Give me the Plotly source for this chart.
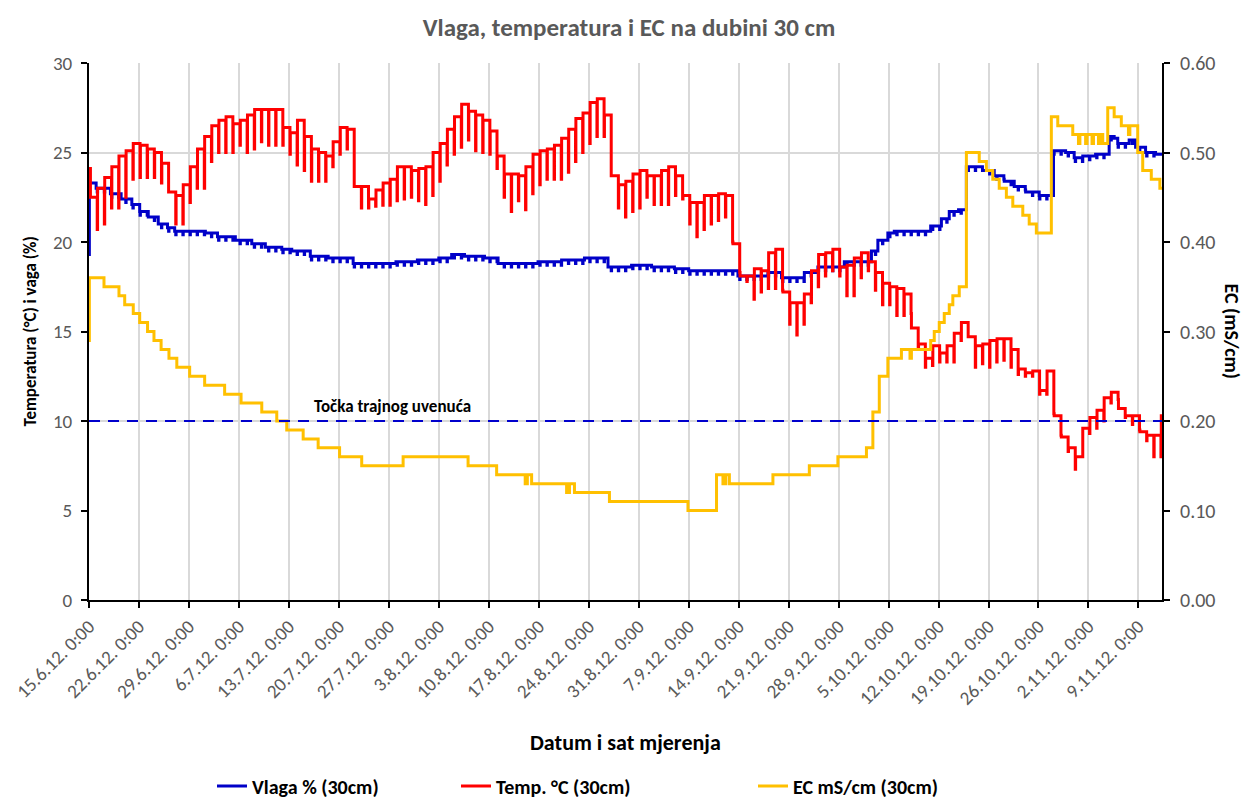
import datetime as dt
import plotly.graph_objects as go

# ---------------- data ----------------
start = dt.datetime(2012, 6, 15)
end_day = 150.3  # last reading (days after start)

tick_labels = ["15.6.12. 0:00", "22.6.12. 0:00", "29.6.12. 0:00", "6.7.12. 0:00",
               "13.7.12. 0:00", "20.7.12. 0:00", "27.7.12. 0:00", "3.8.12. 0:00",
               "10.8.12. 0:00", "17.8.12. 0:00", "24.8.12. 0:00", "31.8.12. 0:00",
               "7.9.12. 0:00", "14.9.12. 0:00", "21.9.12. 0:00", "28.9.12. 0:00",
               "5.10.12. 0:00", "12.10.12. 0:00", "19.10.12. 0:00", "26.10.12. 0:00",
               "2.11.12. 0:00", "9.11.12. 0:00"]

# Temperature: first reading, then daily plateau level and daily minimum
temp_first = 24.1
temp_level = [22.5, 23.0, 23.6, 24.2, 24.8, 25.1, 25.5, 25.4, 25.2, 25.0,
              24.4, 22.8, 22.6, 23.2, 24.2, 25.2, 25.9, 26.5, 26.8, 27.0,
              26.6, 26.8, 27.1, 27.4, 27.4, 27.4, 27.4, 26.4, 26.1, 26.8,
              25.9, 25.2, 25.0, 24.8, 25.6, 26.4, 26.3, 23.1, 23.1, 22.4,
              22.9, 23.3, 23.5, 24.2, 24.2, 24.0, 24.1, 24.2, 25.0, 25.5,
              26.3, 27.0, 27.7, 27.3, 27.1, 26.8, 26.2, 24.8, 23.8, 23.8,
              23.7, 24.2, 24.9, 25.1, 25.2, 25.4, 25.8, 26.3, 26.9, 27.2,
              27.8, 28.0, 27.1, 23.7, 23.2, 23.4, 23.8, 24.0, 23.7, 23.7,
              24.0, 24.2, 23.7, 22.6, 22.2, 22.2, 22.6, 22.6, 22.7, 22.6,
              19.9, 18.1, 18.1, 18.5, 18.4, 19.4, 19.6, 17.2, 16.6, 16.6,
              17.1, 18.4, 19.3, 19.4, 19.6, 18.6, 18.7, 19.1, 19.4, 18.9,
              18.3, 17.7, 17.5, 17.4, 17.1, 15.2, 14.3, 13.5, 14.2, 13.8,
              14.2, 14.9, 15.5, 14.7, 14.2, 14.3, 14.5, 14.6, 14.6, 14.0,
              12.9, 12.7, 12.8, 11.7, 12.8, 10.3, 9.1, 8.5, 8.0, 9.6,
              10.2, 10.6, 11.3, 11.6, 10.7, 10.3, 10.3, 9.4, 9.2, 9.2,
              10.3]
temp_min = [20.7, 21.0, 21.9, 21.9, 22.5, 23.5, 23.6, 23.6, 23.6, 23.3,
            22.8, 21.0, 21.0, 22.2, 23.0, 23.0, 24.5, 25.0, 25.0, 25.0,
            25.4, 25.0, 25.2, 25.6, 25.4, 25.4, 25.4, 24.9, 24.3, 24.0,
            23.4, 23.4, 23.4, 24.2, 24.9, 25.2, 23.1, 21.9, 21.9, 22.0,
            22.05, 22.05, 22.3, 22.4, 22.5, 22.3, 22.1, 22.6, 23.4, 24.3,
            24.9, 25.3, 25.7, 25.1, 25.0, 24.9, 24.1, 22.5, 21.7, 22.3,
            21.8, 22.7, 23.2, 23.5, 23.5, 23.5, 23.9, 24.5, 25.0, 25.5,
            25.9, 25.9, 23.7, 21.9, 21.4, 21.7, 21.9, 22.5, 22.1, 22.1,
            22.1, 22.6, 22.4, 21.0, 20.3, 20.7, 21.0, 21.2, 21.4, 20.0,
            18.3, 17.8, 16.8, 17.2, 17.4, 17.4, 17.3, 15.4, 14.8, 15.4,
            16.6, 17.5, 18.1, 18.4, 18.1, 17.0, 17.0, 18.0, 18.4, 17.3,
            16.5, 16.5, 15.9, 15.9, 16.0, 14.0, 13.0, 13.1, 13.3, 13.3,
            13.3, 14.5, 14.7, 13.0, 13.2, 13.0, 13.3, 13.4, 13.0, 12.6,
            12.5, 12.5, 11.5, 11.5, 10.4, 9.2, 8.3, 7.3, 8.0, 9.3,
            9.6, 10.0, 11.0, 11.2, 10.2, 9.8, 9.5, 8.9, 8.0, 8.0,
            8.9]

# Soil moisture: change points (day after start, value %) and typical daily dip
moist_days = [0.0, 0.05, 1.0, 3.0, 4.5, 6.0, 7.1, 8.3, 9.7, 11.0,
              12.0, 16.3, 18.0, 20.5, 22.8, 24.7, 27.0, 28.4, 31.0, 33.5,
              37.0, 43.0, 46.0, 49.0, 50.8, 52.6, 55.4, 57.3, 62.9, 66.2,
              69.4, 72.7, 76.0, 78.8, 82.0, 84.0, 90.9, 95.1, 97.0, 100.2,
              102.1, 105.8, 109.6, 110.5, 111.9, 112.8, 117.9, 119.4, 120.5, 121.8,
              122.9, 125.2, 126.8, 128.2, 129.6, 131.2, 133.1, 135.1, 136.8, 138.0,
              139.2, 141.0, 142.9, 143.6, 144.1, 145.7, 146.6, 148.0, 149.4]
moist_vals = [19.3, 23.3, 23.0, 22.7, 22.4, 22.1, 21.7, 21.4, 21.0, 20.8,
              20.6, 20.5, 20.3, 20.1, 19.9, 19.7, 19.6, 19.5, 19.2, 19.1,
              18.8, 18.9, 19.0, 19.1, 19.3, 19.2, 19.1, 18.8, 18.9, 19.0,
              19.1, 18.6, 18.7, 18.6, 18.5, 18.4, 18.1, 18.3, 18.0, 18.3,
              18.6, 18.9, 19.5, 20.1, 20.5, 20.6, 20.9, 21.3, 21.7, 21.8,
              24.2, 24.0, 23.7, 23.4, 23.1, 22.8, 22.6, 25.1, 25.0, 24.7,
              24.8, 24.9, 25.9, 25.8, 25.5, 25.7, 25.3, 25.0, 24.9]
moist_daily_dip = 0.2

# EC: change points (day after start, value mS/cm)
ec_days = [0.0, 0.05, 2.1, 4.2, 5.0, 6.2, 7.1, 8.2, 9.1, 10.1,
           11.2, 12.3, 14.1, 16.2, 19.0, 21.3, 24.2, 26.3, 27.7, 30.0,
           32.1, 35.1, 38.2, 44.0, 53.1, 57.1, 61.1, 61.4, 62.0, 66.9,
           67.3, 68.0, 72.9, 83.9, 87.9, 88.8, 89.2, 89.7, 95.8, 100.9,
           104.9, 108.9, 109.8, 110.7, 111.9, 113.8, 115.0, 115.2, 117.9, 118.4,
           119.1, 119.8, 120.5, 121.0, 121.9, 122.9, 124.7, 125.7, 126.6, 127.5,
           128.5, 129.4, 130.8, 131.7, 132.7, 134.8, 135.7, 137.8, 138.6, 138.8,
           139.6, 139.8, 140.5, 140.7, 141.4, 141.6, 142.0, 142.7, 143.6, 144.6,
           145.6, 145.8, 146.9, 147.6, 148.8, 150.0]
ec_vals = [0.29, 0.36, 0.35, 0.34, 0.33, 0.32, 0.31, 0.30, 0.29, 0.28,
           0.27, 0.26, 0.25, 0.24, 0.23, 0.22, 0.21, 0.20, 0.19, 0.18,
           0.17, 0.16, 0.15, 0.16, 0.15, 0.14, 0.13, 0.14, 0.13, 0.12,
           0.13, 0.12, 0.11, 0.10, 0.14, 0.13, 0.14, 0.13, 0.14, 0.15,
           0.16, 0.17, 0.21, 0.25, 0.27, 0.28, 0.27, 0.28, 0.29, 0.30,
           0.31, 0.32, 0.33, 0.34, 0.35, 0.50, 0.49, 0.48, 0.47, 0.46,
           0.45, 0.44, 0.43, 0.42, 0.41, 0.54, 0.53, 0.52, 0.51, 0.52,
           0.51, 0.52, 0.51, 0.52, 0.51, 0.52, 0.51, 0.55, 0.54, 0.53,
           0.52, 0.53, 0.50, 0.48, 0.47, 0.46]

pwp_value = 10  # Točka trajnog uvenuća (%)
pwp_label = "Točka trajnog uvenuća"

names = ["Vlaga % (30cm)", "Temp. °C (30cm)", "EC mS/cm (30cm)"]
title = "Vlaga, temperatura i EC na dubini 30 cm"

# ---------------- build ----------------
BLUE, RED, GOLD = "#0000C8", "#FF0000", "#FFC000"
GRID = "#D9D9D9"
FONT = "Carlito, Lato, 'Liberation Sans', sans-serif"
TXT_GRAY = "#595959"

# page body has an 8px margin: size/offset the figure so the plot lands where the reference has it
PAGE = 8
W, H = 1250 - PAGE, 801 - PAGE
ML, MT, PW, PH = 89 - PAGE, 63 - PAGE, 1073, 537
MR, MB = W - ML - PW, H - MT - PH

def px_x(x_screen):  # screen px -> paper x
    return (x_screen - PAGE - ML) / PW

def px_y(y_screen):  # screen px -> paper y
    return (MT + PH - (y_screen - PAGE)) / PH

def t(days):
    return start + dt.timedelta(days=days)

x_end = t(end_day)

# temperature trace: plateau for each day, short minimum just before next plateau
LEVEL_AT, MIN_AT, MIN_LEN = 0.2, 1.15, 0.05
tx, ty = [t(0)], [temp_first]
for d, (lv, mn) in enumerate(zip(temp_level, temp_min)):
    tx.append(t(d + LEVEL_AT)); ty.append(lv)
    tx.append(t(d + MIN_AT)); ty.append(mn)

# moisture: stepwise levels with a short daily dip
def moist_at(day):
    v = moist_vals[0]
    for dd, vv in zip(moist_days, moist_vals):
        if dd <= day:
            v = vv
    return v

events = list(zip(moist_days, moist_vals))
for d in range(1, int(end_day)):
    a, b = d - 1 + MIN_AT, d - 1 + MIN_AT + MIN_LEN
    events.append((a, moist_at(a) - moist_daily_dip))
    events.append((b, moist_at(b)))
events.sort(key=lambda e: e[0])
mx = [t(e[0]) for e in events] + [x_end]
my = [e[1] for e in events] + [moist_vals[-1]]

ex = [t(d) for d in ec_days] + [x_end]
ey = ec_vals + [ec_vals[-1]]

def parse_tick(lbl):
    dpart = lbl.split(" ")[0].strip(".").split(".")
    return dt.datetime(2000 + int(dpart[2]), int(dpart[1]), int(dpart[0]))

tick_vals = [parse_tick(s) for s in tick_labels]

fig = go.Figure()

fig.add_trace(go.Scatter(x=[t(0), x_end], y=[pwp_value, pwp_value], mode="lines",
                         line=dict(color="#0000CC", width=2, dash="11px,8px"),
                         yaxis="y3", showlegend=False, hoverinfo="skip"))
fig.add_trace(go.Scatter(x=mx, y=my, name=names[0], mode="lines", line_shape="hv",
                         line=dict(color=BLUE, width=3), legend="legend"))
fig.add_trace(go.Scatter(x=tx, y=ty, name=names[1], mode="lines", line_shape="hv",
                         line=dict(color=RED, width=3), legend="legend2"))
fig.add_trace(go.Scatter(x=ex, y=ey, name=names[2], mode="lines", line_shape="hv",
                         line=dict(color=GOLD, width=3), yaxis="y2", legend="legend3"))

fig.add_annotation(x=t(31.2), y=pwp_value, xref="x", yref="y3", text="<b>" + pwp_label + "</b>",
                   showarrow=False, xanchor="left", yanchor="bottom", yshift=2,
                   font=dict(family=FONT, size=17, color="#000000"))

# axis titles as annotations
fig.add_annotation(x=px_x(30), y=0.5, xref="paper", yref="paper",
                   xanchor="center", yanchor="middle",
                   text="<b>Temperatura (°C) i vaga (%)</b>", textangle=-90,
                   showarrow=False, font=dict(family=FONT, size=17, color="#000000"))
fig.add_annotation(x=px_x(1232), y=0.5, xref="paper", yref="paper",
                   xanchor="center", yanchor="middle",
                   text="<b>EC (mS/cm)</b>", textangle=90,
                   showarrow=False, font=dict(family=FONT, size=20, color="#000000"))
fig.add_annotation(x=0.5, y=px_y(742), xref="paper", yref="paper",
                   xanchor="center", yanchor="middle",
                   text="<b>Datum i sat mjerenja</b>",
                   showarrow=False, font=dict(family=FONT, size=22, color="#000000"))

leg_common = dict(orientation="h", yref="container", yanchor="middle",
                  y=1 - (786 - PAGE) / H,
                  xanchor="left", bgcolor="rgba(0,0,0,0)", borderwidth=0,
                  font=dict(family=FONT, size=20, color="#000000", weight="bold"))

fig.update_layout(
    width=W, height=H,
    margin=dict(l=ML, r=MR, t=MT, b=MB),
    paper_bgcolor="white", plot_bgcolor="white",
    title=dict(text="<b>" + title + "</b>", x=0.5, xanchor="center",
               y=1 - (27 - PAGE) / H, yanchor="middle",
               font=dict(family=FONT, size=25, color=TXT_GRAY)),
    xaxis=dict(type="date", range=[t(0), x_end], tickvals=tick_vals, ticktext=tick_labels,
               tickangle=-45, showgrid=True, gridcolor=GRID, gridwidth=1.5,
               showline=True, linecolor="#000000", linewidth=2, automargin=False,
               ticks="outside", ticklen=6, tickwidth=2, tickcolor="#000000",
               tickfont=dict(family=FONT, size=19, color=TXT_GRAY), zeroline=False),
    yaxis=dict(range=[0, 30], tickvals=[0, 5, 10, 15, 20, 25, 30], showgrid=False,
               showline=True, linecolor="#000000", linewidth=2, automargin=False,
               ticks="outside", ticklen=6, tickwidth=2, tickcolor="#000000",
               ticklabelstandoff=5,
               tickfont=dict(family=FONT, size=19, color=TXT_GRAY), zeroline=False),
    yaxis2=dict(range=[0, 0.6], tickvals=[0, 0.1, 0.2, 0.3, 0.4, 0.5, 0.6],
                tickformat=".2f", overlaying="y", side="right", showgrid=False,
                showline=True, linecolor="#000000", linewidth=2, automargin=False,
                ticks="outside", ticklen=6, tickwidth=2, tickcolor="#000000",
                ticklabelstandoff=6,
                tickfont=dict(family=FONT, size=20, color=TXT_GRAY), zeroline=False),
    yaxis3=dict(range=[0, 30], tickvals=[10, 25], overlaying="y", showticklabels=False,
                ticks="", showgrid=True, gridcolor=GRID, gridwidth=1.5, automargin=False,
                showline=False, zeroline=False),
    legend=dict(x=px_x(212), **leg_common),
    legend2=dict(x=px_x(456), **leg_common),
    legend3=dict(x=px_x(753), **leg_common),
    showlegend=True,
)

fig.write_html("out.html")
